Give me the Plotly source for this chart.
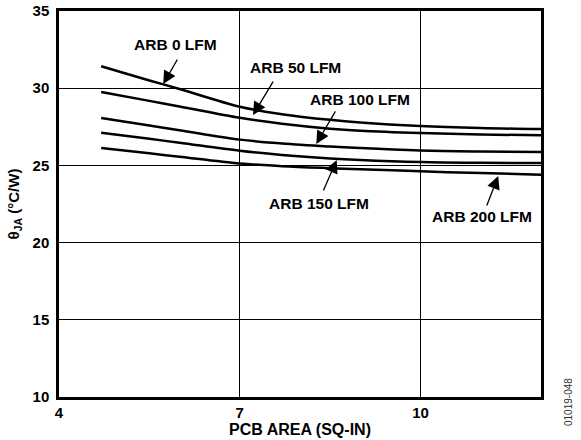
import plotly.graph_objects as go

# PCB area (sq-in) sample points
pcb_area = [4.7, 5.5, 6.0, 7.0, 7.7, 8.5, 9.0, 10.0, 11.0, 12.0]

theta_0lfm = [31.42, 30.5, 29.95, 28.8, 28.32, 27.95, 27.78, 27.55, 27.42, 27.35]
theta_50lfm = [29.76, 29.18, 28.82, 28.08, 27.7, 27.38, 27.25, 27.1, 27.0, 26.95]
theta_100lfm = [28.07, 27.58, 27.28, 26.67, 26.42, 26.22, 26.12, 25.97, 25.9, 25.86]
theta_150lfm = [27.12, 26.72, 26.47, 25.95, 25.68, 25.45, 25.35, 25.22, 25.17, 25.15]
theta_200lfm = [26.12, 25.78, 25.56, 25.12, 24.95, 24.82, 24.75, 24.62, 24.5, 24.4]

series = {
    'ARB 0 LFM': theta_0lfm,
    'ARB 50 LFM': theta_50lfm,
    'ARB 100 LFM': theta_100lfm,
    'ARB 150 LFM': theta_150lfm,
    'ARB 200 LFM': theta_200lfm,
}

# label text position, arrow tip on the curve, arrow tail offset (px)
labels = [
    ('ARB 0 LFM', 5.93, 32.86, 5.73, 30.27, 15, -26),
    ('ARB 50 LFM', 7.93, 31.31, 7.22, 28.26, 21, -35),
    ('ARB 100 LFM', 9.0, 29.3, 8.27, 26.39, 20, -34),
    ('ARB 150 LFM', 8.32, 22.56, 8.61, 25.35, -14, 32),
    ('ARB 200 LFM', 11.02, 21.72, 11.29, 24.31, -12, 31),
]

font_family = 'Liberation Sans, Arial, sans-serif'

fig = go.Figure()
for name, vals in series.items():
    fig.add_trace(go.Scatter(
        x=pcb_area, y=vals, mode='lines', name=name,
        line=dict(color='black', width=2.5, shape='spline', smoothing=1.0),
    ))

for text, tx, ty, ax_, ay_, dx, dy in labels:
    fig.add_annotation(
        text='<b>' + text + '</b>', x=tx, y=ty, showarrow=False,
        font=dict(size=15.5, color='black', family=font_family),
    )
    fig.add_annotation(
        text='', x=ax_, y=ay_, ax=dx, ay=dy, showarrow=True,
        arrowhead=2, arrowsize=2, arrowwidth=1.3, arrowcolor='black',
    )

fig.add_annotation(
    text='01019-048', xref='paper', yref='paper', x=1.056, y=-0.013,
    xanchor='center', yanchor='middle', textangle=-90, showarrow=False,
    font=dict(size=10, color='#333', family=font_family),
)

fig.update_layout(
    width=581, height=440,
    margin=dict(l=59, r=40, t=11, b=43),
    plot_bgcolor='white', paper_bgcolor='white',
    showlegend=False,
    font=dict(family=font_family, color='black'),
    xaxis=dict(
        range=[4, 12], tickvals=[4, 7, 10],
        ticktext=['<b>4</b>', '<b>7</b>', '<b>10</b>'],
        showgrid=True, gridcolor='black', gridwidth=1,
        showline=True, linecolor='black', linewidth=2.5, mirror=True,
        ticks='', tickfont=dict(size=15), zeroline=False, automargin=False,
        title=dict(text='<b>PCB AREA (SQ-IN)</b>', font=dict(size=16), standoff=2),
    ),
    yaxis=dict(
        range=[10, 35], tickvals=[10, 15, 20, 25, 30, 35],
        ticktext=['<b>%d</b>' % v for v in [10, 15, 20, 25, 30, 35]],
        showgrid=True, gridcolor='black', gridwidth=1,
        showline=True, linecolor='black', linewidth=2.5, mirror=True,
        ticks='', tickfont=dict(size=15), zeroline=False, automargin=False,
        ticklabelstandoff=4,
        title=dict(text='<b>θ<sub>JA</sub> (°C/W)</b>', font=dict(size=15), standoff=10),
    ),
)

fig.write_html('out.html', config={'displayModeBar': False},
               post_script="document.body.style.margin='0';")
